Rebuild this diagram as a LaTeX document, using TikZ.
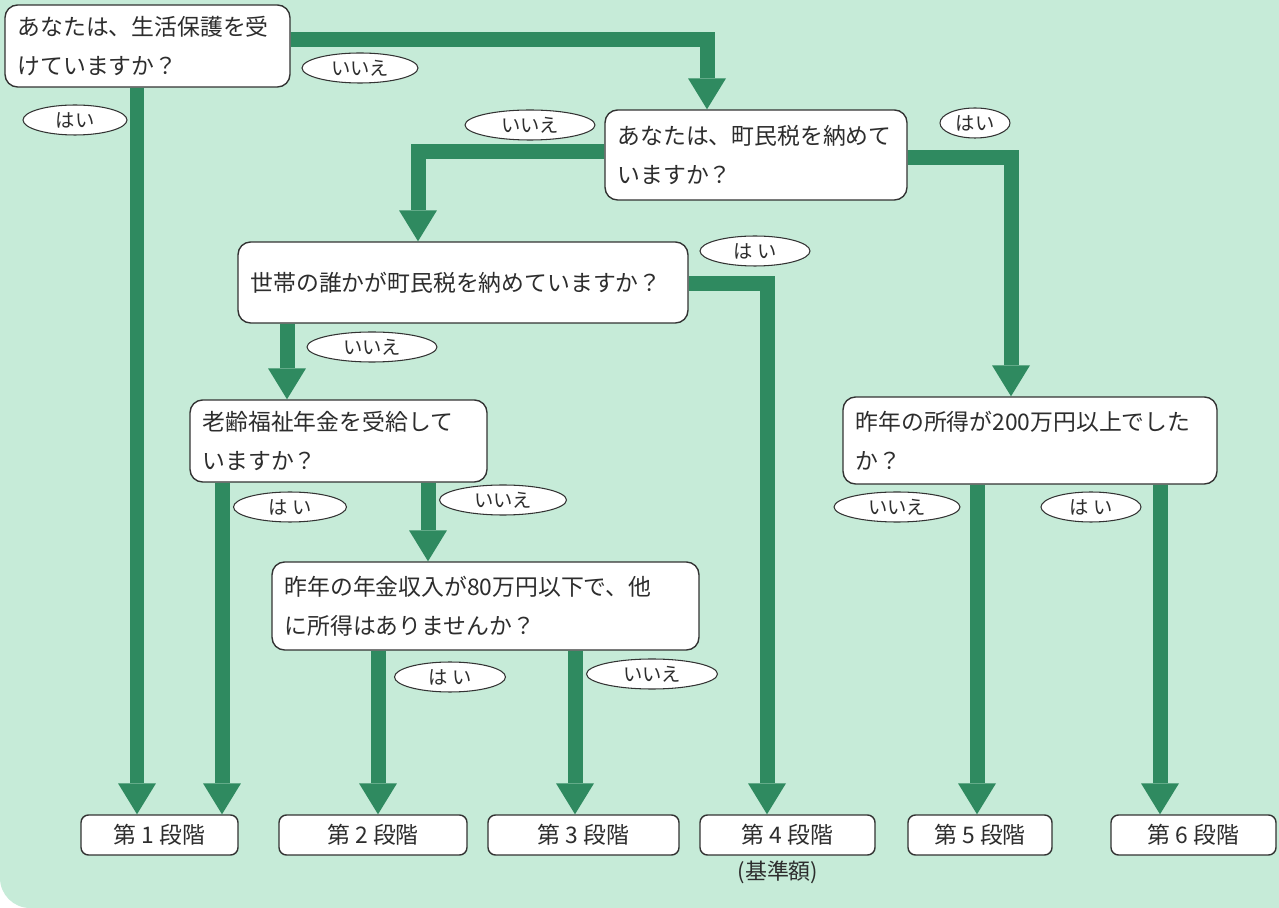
\documentclass[tikz,border=0pt]{standalone}
\usepackage{fontspec}
\setmainfont{Noto Sans CJK JP}
\usetikzlibrary{shapes.geometric,arrows.meta}
\definecolor{bgmint}{RGB}{198,235,216}
\definecolor{arrowgreen}{RGB}{47,138,96}
\definecolor{textgray}{RGB}{45,45,45}
\tikzstyle{question} = [rectangle, rounded corners = 0.25cm, draw = black!80, fill = white, line width = 0.8pt, align = left, inner xsep = 0.25cm, text = textgray, font = \fontsize{13pt}{22pt}\selectfont]
\tikzstyle{stage} = [rectangle, rounded corners = 0.15cm, minimum height = 0.8cm, draw = black!80, fill = white, line width = 0.8pt, text = textgray, font = \fontsize{13pt}{15pt}\selectfont]
\tikzstyle{answer} = [ellipse, minimum height = 0.6cm, inner sep = 0pt, draw = black!80, fill = white, line width = 0.6pt, text = textgray, font = \fontsize{11pt}{13pt}\selectfont]
\tikzstyle{arrow} = [line width = 0.3cm, draw = arrowgreen, -{Triangle[width = 0.76cm, length = 0.62cm, line width = 0pt]}]

\begin{document}
\begin{tikzpicture}[x = 0.02cm, y = -0.02cm]

	\useasboundingbox (0,0) rectangle (1279,908);
	\fill[bgmint] (0,0) -- (1279,0) -- (1279,908) -- (30,908) arc[start angle = 90, end angle = 180, radius = 30] -- cycle;

	\node[question, minimum width = 5.7cm, minimum height = 1.64cm, text width = 5.2cm](Question 1) at (147.5,46){あなたは、生活保護を受\\けていますか？};
	\node[question, minimum width = 6.04cm, minimum height = 1.8cm, text width = 5.54cm](Question 2) at (756,155){あなたは、町民税を納めて\\いますか？};
	\node[question, minimum width = 9cm, minimum height = 1.62cm, text width = 8.5cm](Question 3) at (463,282.5){世帯の誰かが町民税を納めていますか？};
	\node[question, minimum width = 5.94cm, minimum height = 1.64cm, text width = 5.44cm](Question 4) at (338.5,441){老齢福祉年金を受給して\\いますか？};
	\node[question, minimum width = 8.54cm, minimum height = 1.76cm, text width = 8.04cm](Question 5) at (485.5,606){昨年の年金収入が80万円以下で、他\\に所得はありませんか？};
	\node[question, minimum width = 7.48cm, minimum height = 1.74cm, text width = 6.98cm](Question 6) at (1030,440.5){昨年の所得が200万円以上でした\\か？};

	\node[stage, minimum width = 3.14cm](Stage 1) at (159.5,835){第 1 段階};
	\node[stage, minimum width = 3.76cm](Stage 2) at (373,835){第 2 段階};
	\node[stage, minimum width = 3.82cm](Stage 3) at (583.5,835){第 3 段階};
	\node[stage, minimum width = 3.5cm](Stage 4) at (787.5,835){第 4 段階};
	\node[stage, minimum width = 2.88cm](Stage 5) at (980,835){第 5 段階};
	\node[stage, minimum width = 3.3cm](Stage 6) at (1193.5,835){第 6 段階};
	\node[text = textgray, font = \fontsize{12.5pt}{14pt}\selectfont](Note) at (778,872){(基準額)};

	\draw [arrow](Question 1.south -| 137,0) -- (Stage 1.north -| 137,0);
	\draw [arrow](Question 1.east |- 0,40) -| (Question 2.north -| 707,0);
	\draw [arrow](Question 2.west |- 0,152) -| (Question 3.north -| 418,0);
	\draw [arrow](Question 2.east |- 0,158) -| (Question 6.north -| 1011,0);
	\draw [arrow](Question 3.east |- 0,284) -| (Stage 4.north -| 767,0);
	\draw [arrow](Question 3.south -| 287,0) -- (Question 4.north -| 287,0);
	\draw [arrow](Question 4.south -| 222,0) -- (Stage 1.north -| 222,0);
	\draw [arrow](Question 4.south -| 428,0) -- (Question 5.north -| 428,0);
	\draw [arrow](Question 5.south -| 378,0) -- (Stage 2.north -| 378,0);
	\draw [arrow](Question 5.south -| 575,0) -- (Stage 3.north -| 575,0);
	\draw [arrow](Question 6.south -| 977,0) -- (Stage 5.north -| 977,0);
	\draw [arrow](Question 6.south -| 1160,0) -- (Stage 6.north -| 1160,0);

	\node[answer, minimum width = 2.08cm](Yes 1) at (75,120){はい};
	\node[answer, minimum width = 2.32cm](No 1) at (360,68){いいえ};
	\node[answer, minimum width = 2.6cm](No 2) at (530,125){いいえ};
	\node[answer, minimum width = 1.4cm](Yes 2) at (975,123){はい};
	\node[answer, minimum width = 2.2cm](Yes 3) at (755,251){は い};
	\node[answer, minimum width = 2.6cm](No 3) at (372,347){いいえ};
	\node[answer, minimum width = 2.26cm](Yes 4) at (290,507){は い};
	\node[answer, minimum width = 2.54cm](No 4) at (503,500){いいえ};
	\node[answer, minimum width = 2.22cm](Yes 5) at (450,677){は い};
	\node[answer, minimum width = 2.62cm](No 5) at (652,674){いいえ};
	\node[answer, minimum width = 2.52cm](No 6) at (897,507){いいえ};
	\node[answer, minimum width = 2cm](Yes 6) at (1091,507){は い};

\end{tikzpicture}
\end{document}
